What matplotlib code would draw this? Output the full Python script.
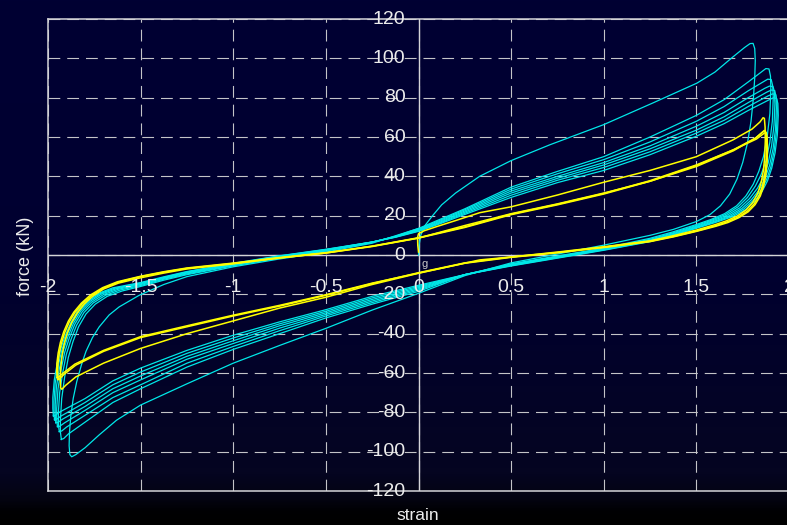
import numpy as np
import matplotlib
matplotlib.use('Agg')
import matplotlib.pyplot as plt
import matplotlib.transforms as mtransforms

plt.rcParams['font.family'] = ['Liberation Sans', 'DejaVu Sans']
plt.rcParams['lines.scale_dashes'] = False

# tick values
x_ticks = [-2, -1.5, -1, -0.5, 0, 0.5, 1, 1.5, 2]
x_tick_labels = ['-2', '-1.5', '-1', '-0.5', '0', '0.5', '1', '1.5', '2']
y_ticks = [120, 100, 80, 60, 40, 20, 0, -20, -40, -60, -80, -100, -120]
y_tick_labels = ['120', '100', '80', '60', '40', '20', '0', '-20', '-40', '-60', '-80', '-100', '-120']

# each loop: (strain, force) points, in drawing order

# cyan: first cycle, virgin loading from the origin
first_pts = [(0, 0), (0.003, 5), (0.012, 10), (0.035, 15), (0.076, 20), (0.125, 25.5), (0.2, 31.5),
             (0.33, 40), (0.5, 48), (0.708, 56), (1.0, 66.3), (1.265, 77.3), (1.503, 87.4), (1.6, 93),
             (1.697, 100.7), (1.76, 105.5), (1.79, 107.5), (1.806, 107.6), (1.815, 105), (1.818, 99),
             (1.815, 90), (1.808, 80), (1.795, 68), (1.776, 57), (1.75, 47), (1.719, 38.5), (1.68, 31),
             (1.63, 25), (1.573, 20.5), (1.5, 17), (1.375, 13), (1.25, 10), (1.0, 5), (0.75, 0.5),
             (0.5, -4), (0.25, -10.5), (0, -19.5), (-0.25, -28), (-0.5, -37.3), (-0.75, -46), (-1.0, -55),
             (-1.25, -65.5), (-1.5, -76.3), (-1.63, -84), (-1.724, -91.5), (-1.8, -98), (-1.85, -101.5),
             (-1.872, -102.6), (-1.882, -101.5), (-1.886, -97), (-1.884, -90), (-1.877, -82), (-1.864, -73),
             (-1.845, -64.5), (-1.82, -56), (-1.795, -49), (-1.76, -42), (-1.724, -36.6), (-1.67, -30.5),
             (-1.616, -26.4), (-1.508, -20.5), (-1.375, -15), (-1.25, -11), (-1.0, -6), (-0.75, -2),
             (-0.5, 1.5), (-0.25, 6), (0, 13.5)]

# cyan: following cycles
c0_pts = [(-1.928, -93.8), (-1.933, -90), (-1.933, -84), (-1.926, -73), (-1.91, -62), (-1.89, -52),
          (-1.865, -44), (-1.835, -36.5), (-1.795, -30), (-1.745, -25), (-1.68, -21), (-1.6, -18.3),
          (-1.5, -16), (-1.375, -12.8), (-1.25, -10), (-1.0, -5.5), (-0.75, -1.5), (-0.5, 2), (-0.25, 6.5),
          (-0.125, 9.5), (0, 13.5), (0.125, 18.5), (0.25, 23.5), (0.5, 34.5), (0.75, 42.5), (1.0, 50),
          (1.25, 60), (1.5, 71), (1.65, 79), (1.78, 88), (1.85, 93), (1.875, 94.8), (1.892, 94.6),
          (1.9, 91), (1.902, 85), (1.897, 72), (1.882, 60), (1.862, 50), (1.837, 42.5), (1.807, 36),
          (1.767, 30), (1.717, 25), (1.652, 21), (1.577, 18), (1.5, 15.5), (1.375, 11.8), (1.25, 8.5),
          (1.0, 3.5), (0.75, -0.5), (0.5, -4.5), (0.25, -10), (0, -18.5), (-0.25, -25), (-0.5, -32),
          (-0.75, -40), (-1.0, -48), (-1.25, -57), (-1.5, -68), (-1.65, -75), (-1.8, -85), (-1.89, -91),
          (-1.915, -93.3), (-1.928, -93.8)]

c1_pts = [(-1.939, -89.8), (-1.944, -86), (-1.944, -80), (-1.937, -70), (-1.921, -60), (-1.901, -50.5),
          (-1.876, -43), (-1.846, -35.8), (-1.806, -29.3), (-1.756, -24.4), (-1.69, -20.5), (-1.61, -17.8),
          (-1.5, -15.5), (-1.375, -12.3), (-1.25, -9.6), (-1.0, -5.2), (-0.75, -1.2), (-0.5, 2.2),
          (-0.25, 6.5), (-0.125, 9.4), (0, 13.2), (0.125, 18), (0.25, 23), (0.5, 33.5), (0.75, 41.3),
          (1.0, 48.5), (1.25, 57.5), (1.5, 68), (1.65, 75.5), (1.78, 83.5), (1.86, 88), (1.885, 89.4),
          (1.904, 89.2), (1.912, 86), (1.915, 80), (1.91, 68), (1.896, 57), (1.876, 48), (1.85, 41),
          (1.818, 35), (1.776, 29.3), (1.725, 24.5), (1.658, 20.6), (1.58, 17.6), (1.5, 15), (1.375, 11.3),
          (1.25, 8), (1.0, 3.2), (0.75, -0.8), (0.5, -4.8), (0.25, -10), (0, -17.8), (-0.25, -24.2),
          (-0.5, -31), (-0.75, -38.5), (-1.0, -46.5), (-1.25, -55), (-1.5, -66), (-1.65, -72.5),
          (-1.8, -81.5), (-1.9, -87.5), (-1.926, -89.5), (-1.939, -89.8)]

c2_pts = [(-1.949, -87.3), (-1.953, -83.5), (-1.953, -78), (-1.946, -68), (-1.93, -58.5), (-1.91, -49.5),
          (-1.885, -42.2), (-1.855, -35.2), (-1.815, -28.8), (-1.765, -24), (-1.70, -20.1), (-1.62, -17.4),
          (-1.5, -15), (-1.375, -11.9), (-1.25, -9.2), (-1.0, -4.9), (-0.75, -0.9), (-0.5, 2.4),
          (-0.25, 6.5), (-0.125, 9.3), (0, 12.9), (0.125, 17.5), (0.25, 22.4), (0.5, 32.5), (0.75, 40),
          (1.0, 47), (1.25, 55.5), (1.5, 65.5), (1.65, 72.5), (1.78, 80), (1.87, 84.8), (1.895, 85.9),
          (1.914, 85.6), (1.921, 83), (1.924, 77), (1.919, 66), (1.906, 55.5), (1.887, 46.5), (1.862, 39.5),
          (1.83, 34), (1.786, 28.6), (1.735, 24), (1.665, 20.2), (1.585, 17.3), (1.5, 14.6), (1.375, 10.9),
          (1.25, 7.6), (1.0, 3), (0.75, -1), (0.5, -5), (0.25, -10), (0, -17.2), (-0.25, -23.4),
          (-0.5, -30.2), (-0.75, -37.2), (-1.0, -45), (-1.25, -53), (-1.5, -63.5), (-1.65, -70),
          (-1.8, -79), (-1.91, -85.3), (-1.937, -87.1), (-1.949, -87.3)]

c3_pts = [(-1.958, -85.3), (-1.961, -81.5), (-1.961, -76), (-1.954, -66.5), (-1.938, -57.5), (-1.918, -48.8),
          (-1.893, -41.6), (-1.863, -34.8), (-1.823, -28.4), (-1.773, -23.6), (-1.71, -19.8), (-1.63, -17.1),
          (-1.5, -14.6), (-1.375, -11.6), (-1.25, -8.9), (-1.0, -4.7), (-0.75, -0.7), (-0.5, 2.6),
          (-0.25, 6.6), (-0.125, 9.2), (0, 12.6), (0.125, 17), (0.25, 21.8), (0.5, 31.5), (0.75, 39),
          (1.0, 45.8), (1.25, 54), (1.5, 63.5), (1.65, 70.3), (1.78, 77.5), (1.88, 82.8), (1.905, 83.9),
          (1.923, 83.6), (1.929, 81), (1.932, 75), (1.927, 64), (1.914, 54), (1.895, 45.5), (1.87, 38.8),
          (1.84, 33.3), (1.797, 28.1), (1.745, 23.6), (1.675, 19.9), (1.592, 17), (1.5, 14.2), (1.375, 10.5),
          (1.25, 7.3), (1.0, 2.8), (0.75, -1.2), (0.5, -5.2), (0.25, -10), (0, -16.6), (-0.25, -22.6),
          (-0.5, -29.4), (-0.75, -36), (-1.0, -43.6), (-1.25, -51.5), (-1.5, -61.5), (-1.65, -68),
          (-1.8, -77), (-1.92, -83.4), (-1.946, -85.1), (-1.958, -85.3)]

c4_pts = [(-1.965, -83.8), (-1.968, -80), (-1.968, -74.5), (-1.961, -65), (-1.945, -56.5), (-1.925, -48.2),
          (-1.9, -41.2), (-1.87, -34.5), (-1.83, -28.1), (-1.78, -23.3), (-1.718, -19.6), (-1.64, -16.9),
          (-1.5, -14.3), (-1.375, -11.4), (-1.25, -8.6), (-1.0, -4.5), (-0.75, -0.5), (-0.5, 2.8),
          (-0.25, 6.6), (-0.125, 9.1), (0, 12.3), (0.125, 16.6), (0.25, 21.2), (0.5, 30.4), (0.75, 38),
          (1.0, 44.5), (1.25, 52.5), (1.5, 62), (1.65, 68.5), (1.78, 75.5), (1.885, 80.8), (1.91, 81.9),
          (1.928, 81.6), (1.934, 79), (1.937, 73), (1.932, 62.5), (1.92, 53), (1.902, 44.8), (1.878, 38.2),
          (1.848, 32.8), (1.806, 27.7), (1.755, 23.3), (1.685, 19.7), (1.598, 16.8), (1.5, 13.9),
          (1.375, 10.2), (1.25, 7), (1.0, 2.6), (0.75, -1.4), (0.5, -5.4), (0.25, -10), (0, -16),
          (-0.25, -21.8), (-0.5, -28.6), (-0.75, -35), (-1.0, -42.2), (-1.25, -50), (-1.5, -59.5),
          (-1.65, -66), (-1.8, -75), (-1.93, -81.9), (-1.954, -83.6), (-1.965, -83.8)]

c5_pts = [(-1.971, -81.8), (-1.974, -78), (-1.974, -72.5), (-1.966, -63.5), (-1.951, -55.5), (-1.931, -47.6),
          (-1.906, -40.8), (-1.876, -34.2), (-1.836, -27.8), (-1.786, -23), (-1.725, -19.4), (-1.65, -16.7),
          (-1.5, -14), (-1.375, -11.1), (-1.25, -8.4), (-1.0, -4.2), (-0.75, -0.4), (-0.5, 2.9),
          (-0.25, 6.6), (-0.125, 9), (0, 12), (0.125, 16.2), (0.25, 20.6), (0.5, 29.3), (0.75, 36.8),
          (1.0, 43), (1.25, 51), (1.5, 60.4), (1.65, 66.8), (1.78, 73.5), (1.89, 78.8), (1.915, 79.9),
          (1.933, 79.6), (1.94, 77), (1.942, 71), (1.937, 61), (1.925, 52), (1.907, 44.2), (1.884, 37.7),
          (1.855, 32.4), (1.815, 27.4), (1.765, 23), (1.695, 19.5), (1.605, 16.6), (1.5, 13.6), (1.375, 10),
          (1.25, 6.8), (1.0, 2.4), (0.75, -1.6), (0.5, -5.6), (0.25, -10), (0, -15.4), (-0.25, -21),
          (-0.5, -27.8), (-0.75, -34), (-1.0, -40.8), (-1.25, -48.5), (-1.5, -57.5), (-1.65, -64),
          (-1.8, -73), (-1.94, -80), (-1.961, -81.6), (-1.971, -81.8)]

# yellow: first cycle (virgin) and later cycles
y0_pts = [(0, 1.5), (-0.004, 5), (-0.005, 9), (0, 10.8), (0.03, 12.3), (0.1, 14.5), (0.2, 17.5), (0.33, 21.5),
          (0.5, 24.5), (0.75, 30.5), (1.0, 37), (1.25, 43), (1.5, 50), (1.697, 58.5), (1.8, 64), (1.843, 67.6),
          (1.86, 69.8), (1.867, 69.5), (1.871, 65), (1.872, 58), (1.869, 50), (1.862, 43), (1.85, 37),
          (1.832, 31.5), (1.805, 26.8), (1.77, 23), (1.72, 19.8), (1.66, 17.3), (1.6, 15.4), (1.5, 12.7),
          (1.375, 9.8), (1.25, 7.2), (1.0, 4.2), (0.75, 1.5), (0.5, -1), (0.33, -2.5), (0, -9.3),
          (-0.25, -15), (-0.5, -21.5), (-0.75, -27), (-1.0, -33.5), (-1.25, -40), (-1.5, -47.5), (-1.7, -55),
          (-1.85, -62), (-1.905, -66.3), (-1.925, -68.3), (-1.932, -67.5), (-1.934, -63), (-1.931, -57),
          (-1.924, -51), (-1.912, -45), (-1.895, -39.5), (-1.872, -34.3), (-1.842, -29.5), (-1.805, -25),
          (-1.76, -21), (-1.7, -17.3), (-1.62, -14.3), (-1.5, -11.6), (-1.375, -9.2), (-1.25, -7.1),
          (-1.0, -4.5), (-0.75, -1.5), (-0.5, 1), (-0.25, 4.5), (0, 8.6), (0.25, 15), (0.5, 21), (0.75, 26),
          (1.0, 31.5), (1.25, 37.5), (1.5, 45), (1.7, 53), (1.82, 59.5), (1.865, 63.2)]

y1_pts = [(-1.945, -63.3), (-1.948, -60), (-1.947, -56), (-1.94, -50.5), (-1.928, -45), (-1.91, -39.5),
          (-1.885, -34), (-1.855, -29.3), (-1.815, -24.8), (-1.765, -20.6), (-1.7, -16.8), (-1.62, -13.8),
          (-1.5, -11), (-1.375, -8.7), (-1.25, -6.8), (-1.0, -4.3), (-0.75, -1.5), (-0.5, 1), (-0.25, 4.3),
          (0, 8.6), (0.25, 14), (0.5, 20.5), (0.75, 25.5), (1.0, 31), (1.25, 37.5), (1.5, 45.5), (1.7, 53.5),
          (1.82, 59.5), (1.862, 62.8), (1.872, 63.2), (1.877, 61), (1.879, 55), (1.877, 48), (1.87, 41.5),
          (1.858, 35.5), (1.84, 30.5), (1.812, 26), (1.775, 22.3), (1.725, 19.3), (1.665, 16.8), (1.6, 14.8),
          (1.5, 12.2), (1.375, 9.4), (1.25, 7), (1.0, 4), (0.75, 1.3), (0.5, -1), (0.25, -4), (0, -9),
          (-0.25, -14.5), (-0.5, -20.5), (-0.75, -26), (-1.0, -31), (-1.25, -36.5), (-1.5, -42), (-1.7, -49),
          (-1.85, -56), (-1.915, -60.8), (-1.937, -63), (-1.945, -63.3)]

y2_pts = [(-1.95, -62.3), (-1.953, -59), (-1.952, -55), (-1.945, -49.8), (-1.933, -44.4), (-1.915, -39),
          (-1.89, -33.6), (-1.86, -29), (-1.82, -24.5), (-1.77, -20.3), (-1.705, -16.6), (-1.625, -13.6),
          (-1.5, -10.8), (-1.375, -8.5), (-1.25, -6.6), (-1.0, -4.1), (-0.75, -1.3), (-0.5, 1.2), (-0.25, 4.5),
          (0, 8.8), (0.25, 14.3), (0.5, 20.8), (0.75, 25.8), (1.0, 31.3), (1.25, 37.8), (1.5, 45.8),
          (1.7, 53.5), (1.825, 59), (1.867, 62), (1.877, 62.3), (1.882, 60), (1.884, 54), (1.882, 47),
          (1.875, 40.8), (1.863, 35), (1.845, 30), (1.817, 25.6), (1.78, 22), (1.73, 19), (1.67, 16.5),
          (1.605, 14.6), (1.5, 12), (1.375, 9.2), (1.25, 6.8), (1.0, 3.8), (0.75, 1.1), (0.5, -1.2),
          (0.25, -4.2), (0, -9.2), (-0.25, -14.3), (-0.5, -20.2), (-0.75, -25.6), (-1.0, -30.6), (-1.25, -36),
          (-1.5, -41.5), (-1.7, -48.5), (-1.855, -55.5), (-1.92, -60.2), (-1.942, -62), (-1.95, -62.3)]

cyan_loops = [first_pts, c0_pts, c1_pts, c2_pts, c3_pts, c4_pts, c5_pts]
yellow_loops = [y0_pts, y1_pts, y2_pts]

W, H = 787, 525
fig = plt.figure(figsize=(W / 100, H / 100), dpi=100)

# background gradient, navy to black
bg = fig.add_axes([0, 0, 1, 1])
bg.axis('off')
t = np.linspace(0, 1, H)
stops = [0, 0.5, 0.9, 0.95, 0.975, 1.0]
r = np.interp(t, stops, [0.0, 0.0, 0.02, 0.015, 0.0, 0.0])
g = np.interp(t, stops, [0.0, 0.0, 0.02, 0.015, 0.0, 0.0])
b = np.interp(t, stops, [0.2, 0.19, 0.13, 0.07, 0.01, 0.0])
img = np.dstack([r, g, b]).reshape(H, 1, 3)
bg.imshow(img, aspect='auto', extent=[0, 1, 0, 1], origin='upper')
bg.set_xlim(0, 1)
bg.set_ylim(0, 1)

ax = fig.add_axes([48 / W, 34 / H, 741 / W, 472 / H])
ax.set_facecolor('none')
ax.set_xlim(-2, 2)
ax.set_ylim(-120, 120)
ax.set_xticks([])
ax.set_yticks([])

grid_col = '#c4c4c8'
for xv in x_ticks:
    ax.axvline(xv, color=grid_col, lw=0.8, ls=(0, (8.5, 5)), zorder=1)
for yv in y_ticks:
    ax.axhline(yv, color=grid_col, lw=0.8, ls=(0, (8.5, 5)), zorder=1)
ax.axhline(0, color='#d4d4d8', lw=1.0, zorder=1.5)
ax.axvline(0, color='#d4d4d8', lw=1.0, zorder=1.5)

for side in ['left', 'top', 'bottom']:
    ax.spines[side].set_color('#d4d4d8')
    ax.spines[side].set_linewidth(1.1)
ax.spines['right'].set_visible(False)

for pts in cyan_loops:
    sx, fy = np.array(pts).T
    ax.plot(sx, fy, color='#00e8e8', lw=0.9, zorder=3)
for pts in yellow_loops:
    sx, fy = np.array(pts).T
    ax.plot(sx, fy, color='#ffff00', lw=1.1, zorder=4)

txt_col = '#ececec'
ylab_tr = mtransforms.offset_copy(ax.transData, fig=fig, x=-13, y=0, units='dots')
for v, s in zip(y_ticks, y_tick_labels):
    ax.text(0, v, s, transform=ylab_tr, ha='right', va='center', fontsize=14, color=txt_col, zorder=5)
xlab_tr = mtransforms.offset_copy(ax.transData, fig=fig, x=0, y=-33, units='dots')
for v, s in zip(x_ticks, x_tick_labels):
    ax.text(v, 0, s, transform=xlab_tr, ha='center', va='center', fontsize=14, color=txt_col, zorder=5)

g_tr = mtransforms.offset_copy(ax.transData, fig=fig, x=3, y=-9, units='dots')
ax.text(0, 0, 'g', transform=g_tr, ha='left', va='center', fontsize=8, color='#c8c8c8')

fig.text(25 / W, 1 - 256 / H, 'force (kN)', rotation=90, ha='center', va='center',
         fontsize=13, color=txt_col)
fig.text(418 / W, 1 - 515 / H, 'strain', ha='center', va='center', fontsize=12.5, color=txt_col)

fig.savefig('out.png', dpi=100)
